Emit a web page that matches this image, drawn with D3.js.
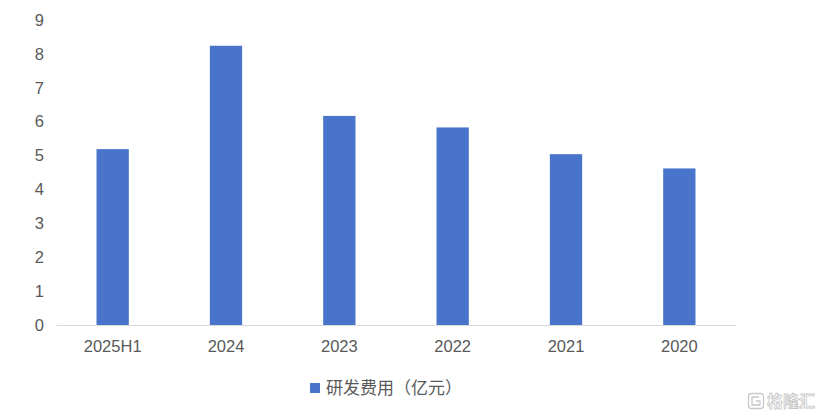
<!DOCTYPE html>
<html>
<head>
<meta charset="utf-8">
<script src="https://cdn.jsdelivr.net/npm/d3@7"></script>
<style>
  html, body { margin: 0; padding: 0; background: #fff; }
  svg { display: block; }
</style>
</head>
<body>
<svg id="chart" width="822" height="420"></svg>
<script>
const categories = ["2025H1", "2024", "2023", "2022", "2021", "2020"];
const rdExpense = [5.19, 8.24, 6.17, 5.83, 5.04, 4.62];
const yTicks = [0, 1, 2, 3, 4, 5, 6, 7, 8, 9];
const seriesName = "研发费用（亿元）";

const W = 822, H = 420;
const margin = { left: 56, right: 86, top: 20, bottom: 95 };
const svg = d3.select("#chart");
const font = "'Liberation Sans', Arial, Helvetica, sans-serif";
const textColor = "#595959";
const barColor = "#4874CB";

const x = d3.scaleBand().domain(categories).range([margin.left, W - margin.right]).paddingInner(0).paddingOuter(0);
const y = d3.scaleLinear().domain([0, 9]).range([H - margin.bottom, margin.top]);

// y axis labels
const yAxis = d3.axisLeft(y).tickValues(yTicks).tickSize(0).tickPadding(12).tickFormat(d3.format("d"));
const gy = svg.append("g").attr("transform", `translate(${margin.left},0)`).call(yAxis);
gy.select(".domain").remove();
gy.selectAll("text").attr("font-family", font).attr("font-size", 16.5).attr("fill", textColor);

// bars
const barW = x.bandwidth() * 0.285;
svg.append("g").selectAll("rect").data(categories).join("rect")
  .attr("x", (d) => x(d) + x.bandwidth() / 2 - barW / 2)
  .attr("y", (d, i) => y(rdExpense[i]))
  .attr("width", barW)
  .attr("height", (d, i) => y(0) - y(rdExpense[i]))
  .attr("fill", barColor);

// x axis
const xAxis = d3.axisBottom(x).tickSize(0).tickPadding(15);
const gx = svg.append("g").attr("transform", `translate(0,${y(0)})`).call(xAxis);
gx.select(".domain").attr("stroke", "#d9d9d9").attr("stroke-width", 1.2);
gx.selectAll("text").attr("font-family", font).attr("font-size", 16.5).attr("fill", textColor);

// legend
const lg = svg.append("g").attr("transform", "translate(310,383)");
lg.append("rect").attr("x", 0).attr("y", 0).attr("width", 10).attr("height", 10).attr("fill", barColor);
lg.append("text").attr("x", 16).attr("y", 5).attr("dy", "0.36em")
  .attr("font-family", "'Noto Sans CJK SC', sans-serif").attr("font-size", 17)
  .attr("fill", textColor).text(seriesName);

// watermark
const wm = svg.append("g").attr("transform", "translate(748,393)");
wm.append("rect").attr("x", 0.5).attr("y", 0.5).attr("width", 15).attr("height", 15).attr("rx", 3)
  .attr("fill", "none").attr("stroke", "#c8c8c8").attr("stroke-width", 1.3);
wm.append("path").attr("d", "M11,4 L4,4 L4,12 L12,12 L12,8 L8,8")
  .attr("fill", "none").attr("stroke", "#c8c8c8").attr("stroke-width", 1.3);
wm.append("text").attr("x", 19).attr("y", 8).attr("dy", "0.36em")
  .attr("font-family", "'Noto Sans CJK SC', sans-serif").attr("font-size", 16).attr("font-weight", "bold")
  .attr("fill", "#fff").attr("stroke", "#c8c8c8").attr("stroke-width", 0.8)
  .text("格隆汇");
</script>
</body>
</html>
